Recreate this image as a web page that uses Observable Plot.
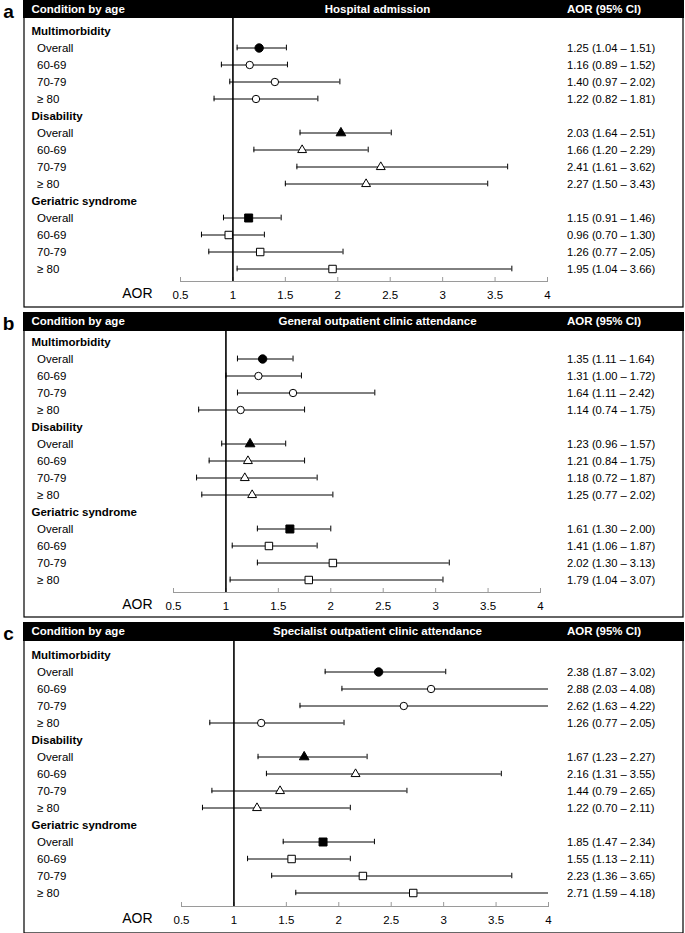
<!DOCTYPE html>
<html><head><meta charset="utf-8">
<script src="https://cdn.jsdelivr.net/npm/d3@7"></script>
<script src="https://cdn.jsdelivr.net/npm/@observablehq/plot@0.6"></script>
<style>
body{margin:0;background:#fff;}
#chart{width:685px;}
#chart svg{display:block;}
</style></head><body><div id="chart"></div>
<script>
// ---- data ----
const groups = ["Multimorbidity", "Disability", "Geriatric syndrome"];
const ages = ["Overall", "60-69", "70-79", "≥ 80"];
const outcomes = ["Hospital admission", "General outpatient clinic attendance", "Specialist outpatient clinic attendance"];
const panelLetters = ["a", "b", "c"];

const hospitalAOR   = [1.25, 1.16, 1.40, 1.22,  2.03, 1.66, 2.41, 2.27,  1.15, 0.96, 1.26, 1.95];
const hospitalLower = [1.04, 0.89, 0.97, 0.82,  1.64, 1.20, 1.61, 1.50,  0.91, 0.70, 0.77, 1.04];
const hospitalUpper = [1.51, 1.52, 2.02, 1.81,  2.51, 2.29, 3.62, 3.43,  1.46, 1.30, 2.05, 3.66];

const generalAOR    = [1.35, 1.31, 1.64, 1.14,  1.23, 1.21, 1.18, 1.25,  1.61, 1.41, 2.02, 1.79];
const generalLower  = [1.11, 1.00, 1.11, 0.74,  0.96, 0.84, 0.72, 0.77,  1.30, 1.06, 1.30, 1.04];
const generalUpper  = [1.64, 1.72, 2.42, 1.75,  1.57, 1.75, 1.87, 2.02,  2.00, 1.87, 3.13, 3.07];

const specialistAOR   = [2.38, 2.88, 2.62, 1.26,  1.67, 2.16, 1.44, 1.22,  1.85, 1.55, 2.23, 2.71];
const specialistLower = [1.87, 2.03, 1.63, 0.77,  1.23, 1.31, 0.79, 0.70,  1.47, 1.13, 1.36, 1.59];
const specialistUpper = [3.02, 4.08, 4.22, 2.05,  2.27, 3.55, 2.65, 2.11,  2.34, 2.11, 3.65, 4.18];

const xTicks = [0.5, 1, 1.5, 2, 2.5, 3, 3.5, 4];
const xDomain = [0.5, 4];
const refValue = 1;
const headerLeft = "Condition by age";
const headerRight = "AOR (95% CI)";
const axisName = "AOR";
const symbols = ["circle", "triangle", "square"];

// ---- layout (styles only) ----
const W = 685;
const layouts = [
  {height: 307, mt: 17, mb: 26, ml: 180, mr: 138, pad: 0.10, align: 0.6, gap: 5},
  {height: 305, mt: 18, mb: 25, ml: 173, mr: 145, pad: 0.12, align: 0.4, gap: 5},
  {height: 311, mt: 18, mb: 27, ml: 181, mr: 137, pad: 0.07, align: 0.5, gap: 0}
];
// marker radii per symbol: [hollow, filled]
const symbolRadius = {circle: [3.7, 4.2], triangle: [3.3, 3.6], square: [4.2, 4.5]};
const series = [
  [hospitalAOR, hospitalLower, hospitalUpper],
  [generalAOR, generalLower, generalUpper],
  [specialistAOR, specialistLower, specialistUpper]
];
const FONT = "'Liberation Sans', Arial, Helvetica, sans-serif";
const fmt = v => v.toFixed(2);

function buildRows(aor, lo, hi) {
  const rows = [];
  groups.forEach((g, gi) => {
    rows.push({key: "g" + gi, label: g, header: true});
    ages.forEach((a, ai) => {
      const i = gi * ages.length + ai;
      rows.push({key: "g" + gi + "a" + ai, label: a, header: false, group: g,
        overall: ai === 0, aor: aor[i], lo: lo[i], hi: hi[i]});
    });
  });
  return rows;
}

const chart = document.getElementById("chart");

series.forEach(([aor, lo, hi], p) => {
  const L = layouts[p];
  const rows = buildRows(aor, lo, hi);
  const dataRows = rows.filter(d => !d.header);
  const frameH = L.height - L.mt - L.mb;
  const xLeft = L.ml, xRight = W - L.mr;
  const step = frameH / (rows.length + 2 * L.pad);
  const capInset = (step - 6) / 2;

  const dotMarks = [];
  groups.forEach((g, gi) => {
    const [rHollow, rFilled] = symbolRadius[symbols[gi]];
    dotMarks.push(Plot.dot(dataRows.filter(d => d.group === g && !d.overall),
      {x: "aor", y: "key", symbol: "group", fill: "white", stroke: "black", strokeWidth: 1, r: rHollow}));
    dotMarks.push(Plot.dot(dataRows.filter(d => d.group === g && d.overall),
      {x: "aor", y: "key", symbol: "group", fill: "black", stroke: "black", strokeWidth: 1, r: rFilled}));
  });

  const svg = Plot.plot({
    width: W,
    height: L.height,
    marginTop: L.mt, marginBottom: L.mb, marginLeft: L.ml, marginRight: L.mr,
    style: {fontFamily: FONT, fontSize: "11.5px", color: "black", background: "white", overflow: "visible"},
    x: {domain: xDomain},
    y: {type: "band", domain: rows.map(d => d.key), paddingInner: 0, paddingOuter: L.pad, align: L.align, axis: null},
    symbol: {domain: groups, range: symbols},
    marks: [
      // outer box
      Plot.frame({stroke: "black", strokeWidth: 1.2,
        insetLeft: -(xLeft - 23.5), insetRight: -(682.5 - xRight),
        insetTop: -(L.mt - 0.5), insetBottom: -(L.mb - 0.5)}),
      // header bar
      Plot.frame({fill: "black", stroke: "black",
        insetLeft: -(xLeft - 23), insetRight: -(683 - xRight),
        insetTop: -L.mt, insetBottom: frameH}),
      Plot.text([headerLeft], {text: d => d, frameAnchor: "top-left", dx: 31 - xLeft, dy: -L.mt / 2,
        textAnchor: "start", lineAnchor: "middle", fill: "white", fontWeight: "bold", fontSize: 11.5}),
      Plot.text([outcomes[p]], {text: d => d, frameAnchor: "top", dx: 377 - (xLeft + xRight) / 2, dy: -L.mt / 2,
        textAnchor: "middle", lineAnchor: "middle", fill: "white", fontWeight: "bold", fontSize: 11.5}),
      Plot.text([headerRight], {text: d => d, frameAnchor: "top-right", dx: 566.5 - xRight, dy: -L.mt / 2,
        textAnchor: "start", lineAnchor: "middle", fill: "white", fontWeight: "bold", fontSize: 11.5}),
      // panel letter
      Plot.text([panelLetters[p]], {text: d => d, frameAnchor: "top-left", dx: 8 - xLeft, dy: -L.mt + 17,
        textAnchor: "middle", lineAnchor: "bottom", fontWeight: "bold", fontSize: 19}),
      // row labels
      Plot.text(rows.filter(d => d.header), {y: "key", text: "label", frameAnchor: "left", dx: 31 - xLeft,
        textAnchor: "start", fontWeight: "bold", fontSize: 11.5}),
      Plot.text(dataRows, {y: "key", text: "label", frameAnchor: "left", dx: 36.5 - xLeft,
        textAnchor: "start", fontSize: 11.5}),
      // values column
      Plot.text(dataRows, {y: "key", text: d => `${fmt(d.aor)} (${fmt(d.lo)} – ${fmt(d.hi)})`,
        frameAnchor: "right", dx: 566.5 - xRight, textAnchor: "start", fontSize: 11.2}),
      // axis
      Plot.frame({anchor: "bottom", stroke: "#9a9a9a"}),
      Plot.tickX(xTicks, {x: d => d, stroke: "#9a9a9a", insetTop: frameH - 4}),
      Plot.axisX({ticks: xTicks, tickFormat: d => String(d), tickSize: 0, tickPadding: 9,
        fontSize: 11.5, label: null}),
      Plot.text([axisName], {text: d => d, frameAnchor: "bottom-left", dx: 152 - xLeft, dy: 12,
        textAnchor: "end", lineAnchor: "middle", fontSize: 14}),
      // reference line
      Plot.ruleX([refValue], {stroke: "black", strokeWidth: 1.6}),
      // confidence intervals
      Plot.ruleY(dataRows, {y: "key", x1: "lo", x2: "hi", stroke: "black", strokeWidth: 1, clip: "frame"}),
      Plot.tickX(dataRows, {x: "lo", y: "key", stroke: "black", strokeWidth: 1, insetTop: capInset, insetBottom: capInset, clip: "frame"}),
      Plot.tickX(dataRows, {x: "hi", y: "key", stroke: "black", strokeWidth: 1, insetTop: capInset, insetBottom: capInset, clip: "frame"}),
      // point estimates
      ...dotMarks
    ]
  });
  svg.style.marginBottom = L.gap + "px";
  chart.appendChild(svg);
});
</script>
</body></html>
